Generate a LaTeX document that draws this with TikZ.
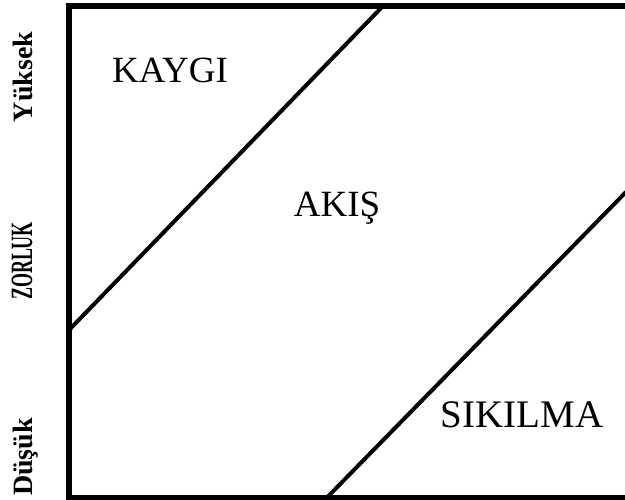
\documentclass[tikz,border=0pt]{standalone}
\usepackage{fontspec}
\setmainfont{Liberation Serif}
\usetikzlibrary{positioning}

\begin{document}
\begin{tikzpicture}[x=1pt, y=-1pt,
    zone label/.style={anchor=base, inner sep=0pt, font=\fontsize{37}{40}\selectfont},
    axis label/.style={anchor=base, rotate=90, inner sep=0pt, font=\bfseries\fontsize{28}{30}\selectfont},
    frame line/.style={line width=5.5pt},
    edge line/.style={line width=4pt}]
    \useasboundingbox (0,0) rectangle (625,500);

    \coordinate (tr) at (626,6);
    \coordinate (tl) at (69,6);
    \coordinate (bl) at (69,497.5);
    \coordinate (br) at (626,497.5);
    \coordinate (up1) at (69,330);
    \coordinate (up2) at (383,6);
    \coordinate (lo1) at (327,497.5);
    \coordinate (lo2) at (626,192);

    \node[zone label] (kaygi) at (170,83) {KAYGI};
    \node[zone label] (akis) at (337,217) {AKIŞ};
    \node[zone label, font=\fontsize{39}{42}\selectfont] (sikilma) at (522,428) {SIKILMA};

    \node[axis label] (yuksek) at (32,77) {Yüksek};
    \node[axis label, font=\bfseries\fontsize{31}{33}\selectfont] (zorluk) at (32,261) {\scalebox{0.58}[1]{ZORLUK}};
    \node[axis label] (dusuk) at (32,457) {Düşük};

    \draw[frame line] (tr) -- (tl) -- (bl) -- (br);
    \draw[edge line] (up1) -- (up2);
    \draw[edge line] (lo1) -- (lo2);
\end{tikzpicture}
\end{document}
